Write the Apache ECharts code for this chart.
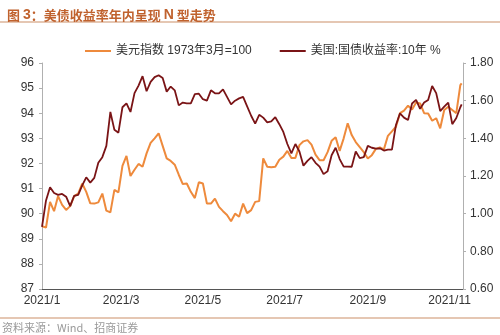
<!DOCTYPE html>
<html>
<head>
<meta charset="utf-8">
<script src="https://cdn.jsdelivr.net/npm/echarts@6/dist/echarts.min.js"></script>
<style>html,body{margin:0;padding:0;background:#fff;}#c{width:500px;height:335px;}</style>
</head>
<body>
<div id="c"></div>
<script>
const dates = ['2021-01-01','2021-01-04','2021-01-07','2021-01-10','2021-01-13','2021-01-16','2021-01-19','2021-01-22','2021-01-25','2021-01-28','2021-01-31',
'2021-02-03','2021-02-06','2021-02-09','2021-02-12','2021-02-15','2021-02-18','2021-02-21','2021-02-24','2021-02-27',
'2021-03-02','2021-03-05','2021-03-08','2021-03-11','2021-03-14','2021-03-17','2021-03-20','2021-03-23','2021-03-26','2021-03-29',
'2021-04-01','2021-04-04','2021-04-07','2021-04-10','2021-04-13','2021-04-16','2021-04-19','2021-04-22','2021-04-25','2021-04-28',
'2021-05-01','2021-05-04','2021-05-07','2021-05-10','2021-05-13','2021-05-16','2021-05-19','2021-05-22','2021-05-25','2021-05-28','2021-05-31',
'2021-06-03','2021-06-06','2021-06-09','2021-06-12','2021-06-15','2021-06-18','2021-06-21','2021-06-24','2021-06-27','2021-06-30',
'2021-07-03','2021-07-06','2021-07-09','2021-07-12','2021-07-15','2021-07-18','2021-07-21','2021-07-24','2021-07-27','2021-07-30',
'2021-08-02','2021-08-05','2021-08-08','2021-08-11','2021-08-14','2021-08-17','2021-08-20','2021-08-23','2021-08-26','2021-08-29',
'2021-09-01','2021-09-04','2021-09-07','2021-09-10','2021-09-13','2021-09-16','2021-09-19','2021-09-22','2021-09-25','2021-09-28',
'2021-10-01','2021-10-04','2021-10-07','2021-10-10','2021-10-13','2021-10-16','2021-10-19','2021-10-22','2021-10-25','2021-10-28','2021-10-31',
'2021-11-03','2021-11-06','2021-11-09','2021-11-10'];

const usdIndex = [89.5,89.45,90.47,90.1,90.7,90.35,90.15,90.3,90.7,90.8,91.2,
90.87,90.41,90.4,90.45,90.8,90.12,90.05,90.95,90.85,
91.9,92.3,91.5,91.75,91.98,91.87,92.4,92.82,93.0,93.2,
92.7,92.2,92.1,91.95,91.55,91.18,91.2,90.87,90.62,91.25,
91.2,90.4,90.4,90.6,90.27,90.1,89.95,89.7,90.0,89.88,90.4,
90.02,90.14,90.47,90.5,92.2,91.87,91.85,91.87,92.15,92.27,
92.5,92.22,92.22,92.73,92.88,92.93,92.75,92.35,92.13,92.13,
92.45,92.9,93.04,92.5,93.0,93.6,93.13,92.85,92.65,92.45,
92.2,92.33,92.58,92.64,92.56,93.1,93.28,93.46,94.0,94.1,
94.3,94.15,94.43,94.39,94.0,93.99,93.7,93.8,93.4,94.13,94.26,
94.13,94.0,95.12,95.19];

const ust10y = [0.93,1.07,1.14,1.11,1.10,1.105,1.09,1.04,1.095,1.10,1.15,
1.193,1.165,1.19,1.27,1.30,1.36,1.54,1.445,1.43,
1.565,1.586,1.54,1.64,1.68,1.73,1.65,1.70,1.725,1.735,
1.72,1.648,1.675,1.655,1.575,1.59,1.586,1.586,1.635,1.637,
1.608,1.60,1.655,1.639,1.639,1.66,1.62,1.58,1.60,1.612,1.62,
1.57,1.52,1.478,1.525,1.51,1.485,1.49,1.512,1.475,1.434,
1.37,1.32,1.37,1.33,1.255,1.28,1.30,1.27,1.25,1.21,
1.225,1.31,1.35,1.29,1.25,1.25,1.249,1.33,1.295,1.30,
1.36,1.35,1.345,1.347,1.335,1.34,1.34,1.471,1.533,1.51,
1.497,1.585,1.604,1.557,1.59,1.604,1.678,1.64,1.545,1.568,1.59,
1.475,1.508,1.565,1.58];

const xTickDates = ['2021-01-01','2021-03-01','2021-05-01','2021-07-01','2021-09-01','2021-11-01'];
const seriesNames = ['美元指数 1973年3月=100','美国:国债收益率:10年 %'];

function ts(s){const p=s.split('-');return new Date(+p[0],+p[1]-1,+p[2]).getTime();}
const xTicks = xTickDates.map(ts);
const font = "'Liberation Sans','Noto Sans CJK SC',sans-serif";

const chart = echarts.init(document.getElementById('c'), null, {renderer:'canvas'});
chart.setOption({
  animation:false,
  backgroundColor:'#fff',
  textStyle:{fontFamily:font},
  title:{
    left:2, top:3,
    text:'{a|图 }{b|3}{a|：美债收益率年内呈现 }{b|N}{a| 型走势}',
    textStyle:{rich:{
      a:{fontSize:13,color:'#C0622E',fontFamily:"'Noto Sans CJK SC',sans-serif"},
      b:{fontSize:14,color:'#C0622E',fontWeight:'bold',fontFamily:font}
    }}
  },
  graphic:[
    {type:'line',shape:{x1:0,y1:22,x2:500,y2:22},style:{stroke:'#DDB49A',lineWidth:1.5}},
    {type:'line',shape:{x1:0,y1:318,x2:500,y2:318},style:{stroke:'#DDB49A',lineWidth:1.5}},
    {type:'text',left:2,top:322,style:{text:'资料来源：Wind、招商证券',fill:'#9a9a9a',fontSize:11,fontFamily:"'Noto Sans CJK SC',sans-serif"}}
  ],
  legend:{
    top:40, left:80, itemGap:28, itemWidth:26, itemHeight:2, icon:'rect',
    textStyle:{fontSize:12,color:'#333',fontFamily:font},
    data:seriesNames
  },
  grid:{left:42,right:37,top:63,bottom:46},
  xAxis:{
    type:'value',
    min:ts('2021-01-01'), max:ts('2021-11-11'),
    axisLine:{lineStyle:{color:'#555',width:1}},
    axisTick:{show:false},
    splitLine:{show:false},
    axisLabel:{
      customValues:xTicks,
      color:'#333',fontSize:12,margin:6,fontFamily:font,
      formatter:function(v){const d=new Date(v);return d.getFullYear()+'/'+(d.getMonth()+1);}
    }
  },
  yAxis:[
    {type:'value',min:87,max:96,interval:1,position:'left',
     axisLine:{show:true,lineStyle:{color:'#b0b0b0'}},
     axisTick:{show:true,length:3,lineStyle:{color:'#b0b0b0'}},
     splitLine:{show:false},
     axisLabel:{color:'#333',fontSize:12,margin:8,fontFamily:font}},
    {type:'value',min:0.6,max:1.8,interval:0.2,position:'right',
     axisLine:{show:true,lineStyle:{color:'#b0b0b0'}},
     axisTick:{show:true,length:3,lineStyle:{color:'#b0b0b0'}},
     splitLine:{show:false},
     axisLabel:{color:'#333',fontSize:12,margin:7,fontFamily:font,
       formatter:function(v){return v.toFixed(2);}}}
  ],
  series:[
    {name:seriesNames[0],type:'line',yAxisIndex:0,symbol:'none',
     lineStyle:{color:'#EE8A3C',width:2},itemStyle:{color:'#EE8A3C'},
     data:dates.map((d,i)=>[ts(d),usdIndex[i]])},
    {name:seriesNames[1],type:'line',yAxisIndex:1,symbol:'none',
     lineStyle:{color:'#7A1416',width:1.8},itemStyle:{color:'#7A1416'},
     data:dates.map((d,i)=>[ts(d),ust10y[i]])}
  ]
});
</script>
</body>
</html>
